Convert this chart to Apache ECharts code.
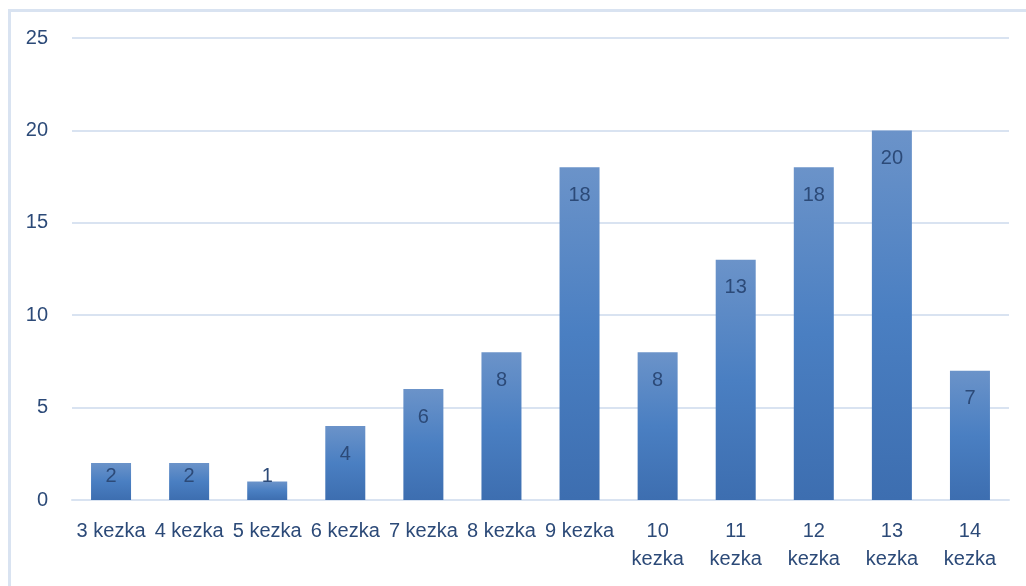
<!DOCTYPE html>
<html>
<head>
<meta charset="utf-8">
<script src="https://cdn.jsdelivr.net/npm/echarts@6/dist/echarts.min.js"></script>
<style>
  html, body { margin: 0; padding: 0; background: #fff; }
  #chart-box {
    position: absolute; left: 8px; top: 9px; width: 1030px; height: 590px;
    border: 3px solid #d9e3f1; box-sizing: border-box;
  }
  #bar-chart { position: absolute; left: 0; top: 0; width: 1026px; height: 586px; }
</style>
</head>
<body>
<div id="chart-box"></div>
<div id="bar-chart"></div>
<script>
// kategoriak eta balioak
const categories = ['3 kezka', '4 kezka', '5 kezka', '6 kezka', '7 kezka', '8 kezka',
  '9 kezka', '10 kezka', '11 kezka', '12 kezka', '13 kezka', '14 kezka']
const counts = [2, 2, 1, 4, 6, 8, 18, 8, 13, 18, 20, 7]
const yTicks = [0, 5, 10, 15, 20, 25]

const textColor = '#2c4a78'
const lineColor = '#d9e3f1'
const fontFamily = 'Liberation Sans, Arial, sans-serif'

// barra baxuetan etiketa behean finkatu (Excel bezala)
const barData = counts.map(v => {
  if (v < 3) {
    return { value: v, label: { position: 'insideBottom', distance: 14 } }
  }
  return v
})

const chart = echarts.init(document.getElementById('bar-chart'))
const option = {
  animation: false,
  grid: { left: 72, right: 17, top: 38, bottom: 86, containLabel: false },
  xAxis: {
    type: 'category',
    data: categories,
    axisTick: { show: false },
    axisLine: { lineStyle: { color: lineColor, width: 2 } },
    axisLabel: {
      interval: 0,
      color: textColor,
      fontSize: 20,
      fontFamily: fontFamily,
      margin: 17,
      lineHeight: 28,
      formatter: (val, idx) => idx >= 7 ? val.replace(' ', '\n') : val
    }
  },
  yAxis: {
    type: 'value',
    min: yTicks[0],
    max: yTicks[yTicks.length - 1],
    interval: 5,
    axisLine: { show: false },
    axisTick: { show: false },
    splitLine: { lineStyle: { color: lineColor, width: 2 } },
    axisLabel: { color: textColor, fontSize: 20, fontFamily: fontFamily, margin: 24 }
  },
  series: [{
    type: 'bar',
    data: barData,
    barWidth: 40,
    itemStyle: {
      color: new echarts.graphic.LinearGradient(0, 0, 0, 1, [
        { offset: 0, color: '#6b93c9' },
        { offset: 0.5, color: '#4a7fc2' },
        { offset: 1, color: '#3d6eb0' }
      ])
    },
    label: {
      show: true,
      position: 'insideTop',
      distance: 18,
      color: textColor,
      fontSize: 20,
      fontFamily: fontFamily
    }
  }]
}
chart.setOption(option)
</script>
</body>
</html>
